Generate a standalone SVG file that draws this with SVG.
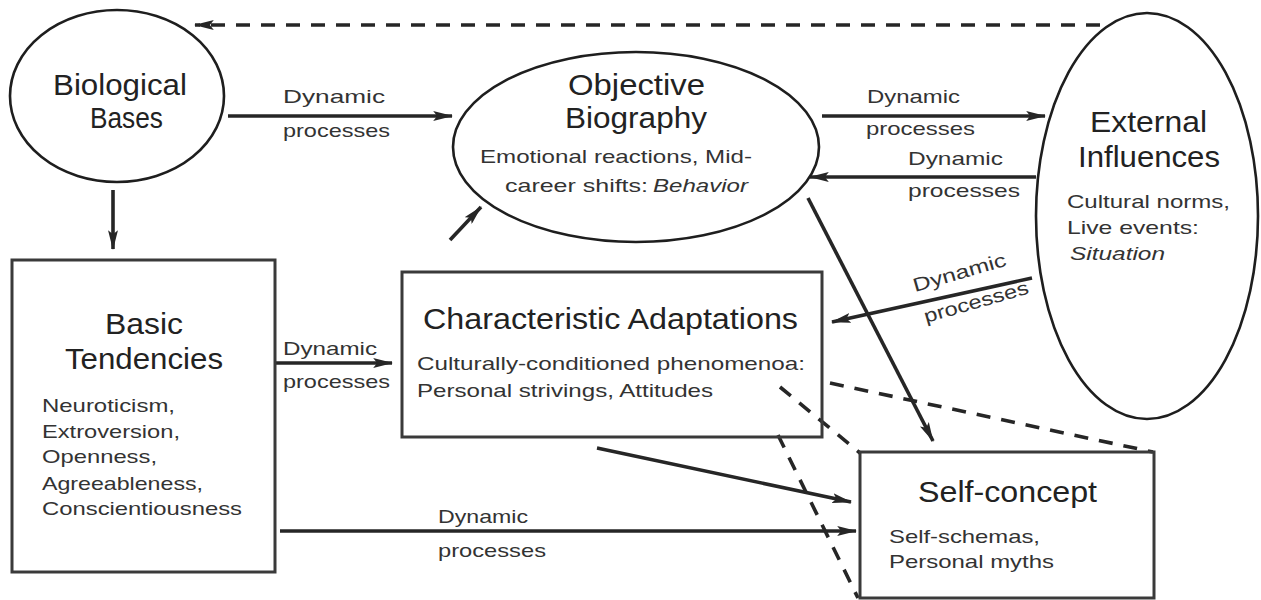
<svg xmlns="http://www.w3.org/2000/svg" width="1261" height="600" viewBox="0 0 1261 600">
<style>
.bg{fill:#ffffff}
.ell{fill:none;stroke:#1e1e1e;stroke-width:2.6}
.box{fill:none;stroke:#3a3a3a;stroke-width:3}
.t{font-family:"Liberation Sans",Arial,sans-serif;font-size:29px;fill:#222}
.s{font-family:"Liberation Sans",Arial,sans-serif;font-size:18.5px;fill:#333}
.l{font-family:"Liberation Sans",Arial,sans-serif;font-size:19px;fill:#333}
.i{font-style:italic}
.c{fill:none;stroke:#262626;stroke-width:3.6;marker-end:url(#ah)}
.d{fill:none;stroke:#262626;stroke-width:3.6;stroke-dasharray:14 11}
.dm{marker-end:url(#ah)}
</style>
<defs>
<marker id="ah" viewBox="0 0 20 10" refX="19" refY="5" markerWidth="5.5" markerHeight="2.8" orient="auto" markerUnits="strokeWidth">
<path d="M0,0 L20,5 L0,10 L4,5 Z" fill="#262626"/>
</marker>
</defs>
<rect class="bg" x="0" y="0" width="1261" height="600"/>

<g id="connectors">
<line class="d dm" x1="1100" y1="25" x2="195" y2="25"/>
<line class="c" x1="228" y1="116" x2="452" y2="116"/>
<line class="c" x1="113" y1="190" x2="113" y2="249"/>
<line class="c" x1="822" y1="116" x2="1045" y2="116"/>
<line class="c" x1="1036" y1="177" x2="810" y2="177"/>
<line class="c" x1="1032" y1="278" x2="832" y2="322"/>
<line class="c" x1="808" y1="198" x2="933" y2="441"/>
<line class="c" x1="275" y1="363" x2="392" y2="363"/>
<line class="c" x1="280" y1="531" x2="856" y2="531"/>
<line class="c" x1="597" y1="448" x2="851" y2="502"/>
<line class="c" x1="450" y1="240" x2="481" y2="207"/>
<line class="d" x1="830" y1="383" x2="1153" y2="452"/>
<line class="d" x1="780" y1="387" x2="860" y2="453"/>
<line class="d" x1="778" y1="435" x2="858" y2="598"/>
<text class="l" x="283" y="103" textLength="102" lengthAdjust="spacingAndGlyphs">Dynamic</text>
<text class="l" x="283" y="137" textLength="107" lengthAdjust="spacingAndGlyphs">processes</text>
<text class="l" x="867" y="103" textLength="93" lengthAdjust="spacingAndGlyphs">Dynamic</text>
<text class="l" x="866" y="135" textLength="109" lengthAdjust="spacingAndGlyphs">processes</text>
<text class="l" x="908" y="165" textLength="95" lengthAdjust="spacingAndGlyphs">Dynamic</text>
<text class="l" x="908" y="197" textLength="112" lengthAdjust="spacingAndGlyphs">processes</text>
<text class="l" x="915" y="292" textLength="96" lengthAdjust="spacingAndGlyphs" transform="rotate(-16 915 292)">Dynamic</text>
<text class="l" x="926" y="323" textLength="108" lengthAdjust="spacingAndGlyphs" transform="rotate(-16 926 323)">processes</text>
<text class="l" x="283" y="355" textLength="94" lengthAdjust="spacingAndGlyphs">Dynamic</text>
<text class="l" x="283" y="388" textLength="107" lengthAdjust="spacingAndGlyphs">processes</text>
<text class="l" x="438" y="523" textLength="90" lengthAdjust="spacingAndGlyphs">Dynamic</text>
<text class="l" x="438" y="557" textLength="108" lengthAdjust="spacingAndGlyphs">processes</text>
</g>

<g id="biological-bases">
<ellipse class="ell" cx="117" cy="96" rx="107" ry="86"/>
<text class="t" x="53" y="95" textLength="134" lengthAdjust="spacingAndGlyphs">Biological</text>
<text class="t" x="90" y="128" textLength="73" lengthAdjust="spacingAndGlyphs">Bases</text>
</g>

<g id="objective-biography">
<ellipse class="ell" cx="636" cy="147" rx="183" ry="95"/>
<text class="t" x="568" y="95" textLength="137" lengthAdjust="spacingAndGlyphs">Objective</text>
<text class="t" x="565" y="128" textLength="142" lengthAdjust="spacingAndGlyphs">Biography</text>
<text class="s" x="480" y="163" textLength="272" lengthAdjust="spacingAndGlyphs">Emotional reactions, Mid-</text>
<text class="s" x="505" y="192" textLength="143" lengthAdjust="spacingAndGlyphs">career shifts:</text>
<text class="s i" x="653" y="192" textLength="95" lengthAdjust="spacingAndGlyphs">Behavior</text>
</g>

<g id="external-influences">
<ellipse class="ell" cx="1147" cy="216" rx="111" ry="203"/>
<text class="t" x="1090" y="132" textLength="117" lengthAdjust="spacingAndGlyphs">External</text>
<text class="t" x="1078" y="167" textLength="142" lengthAdjust="spacingAndGlyphs">Influences</text>
<text class="s" x="1067" y="208" textLength="163" lengthAdjust="spacingAndGlyphs">Cultural norms,</text>
<text class="s" x="1067" y="234" textLength="132" lengthAdjust="spacingAndGlyphs">Live events:</text>
<text class="s i" x="1070" y="260" textLength="95" lengthAdjust="spacingAndGlyphs">Situation</text>
</g>

<g id="basic-tendencies">
<rect class="box" x="12" y="260" width="263" height="312"/>
<text class="t" x="105" y="334" textLength="78" lengthAdjust="spacingAndGlyphs">Basic</text>
<text class="t" x="65" y="369" textLength="158" lengthAdjust="spacingAndGlyphs">Tendencies</text>
<text class="s" x="42" y="412" textLength="133" lengthAdjust="spacingAndGlyphs">Neuroticism,</text>
<text class="s" x="42" y="438" textLength="138" lengthAdjust="spacingAndGlyphs">Extroversion,</text>
<text class="s" x="42" y="463" textLength="115" lengthAdjust="spacingAndGlyphs">Openness,</text>
<text class="s" x="42" y="490" textLength="161" lengthAdjust="spacingAndGlyphs">Agreeableness,</text>
<text class="s" x="42" y="515" textLength="200" lengthAdjust="spacingAndGlyphs">Conscientiousness</text>
</g>

<g id="characteristic-adaptations">
<rect class="box" x="402" y="272" width="420" height="165"/>
<text class="t" x="423" y="329" textLength="375" lengthAdjust="spacingAndGlyphs">Characteristic Adaptations</text>
<text class="s" x="417" y="370" textLength="388" lengthAdjust="spacingAndGlyphs">Culturally-conditioned phenomenoa:</text>
<text class="s" x="417" y="397" textLength="296" lengthAdjust="spacingAndGlyphs">Personal strivings, Attitudes</text>
</g>

<g id="self-concept">
<rect class="box" x="860" y="452" width="294" height="146"/>
<text class="t" x="918" y="502" textLength="179" lengthAdjust="spacingAndGlyphs">Self-concept</text>
<text class="s" x="889" y="543" textLength="151" lengthAdjust="spacingAndGlyphs">Self-schemas,</text>
<text class="s" x="889" y="568" textLength="165" lengthAdjust="spacingAndGlyphs">Personal myths</text>
</g>
</svg>
